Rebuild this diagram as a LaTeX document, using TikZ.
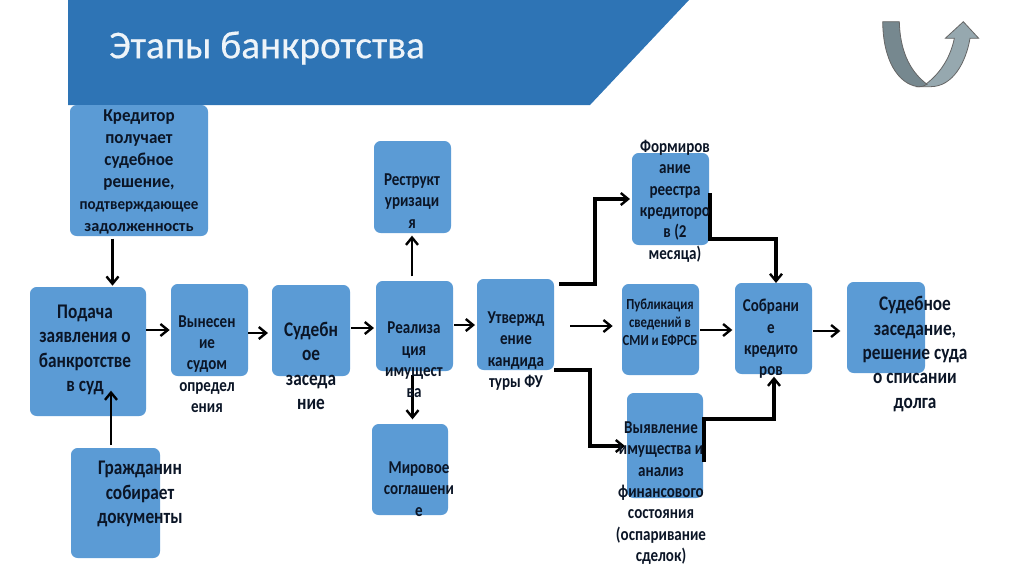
\documentclass[tikz,border=0pt]{standalone}
\usepackage{fontspec}
\setmainfont{Carlito}
\newfontfamily\labf[FakeStretch=0.83]{Carlito}
\newfontfamily\kredf[FakeStretch=0.94]{Carlito}
\newfontfamily\widef{Carlito}
\newfontfamily\titlef[FakeBold=0.4]{Carlito}
\usetikzlibrary{arrows.meta,calc}
\definecolor{banner}{HTML}{2E74B5}
\definecolor{boxblue}{HTML}{5B9BD5}
\definecolor{ink}{HTML}{0B1526}
\newcommand{\bx}[5]{\node[boxnode,minimum width={(#4-#2)*0.75pt},minimum height={(#5-#3)*0.75pt}] (#1) at ({(#2+#4)/2},{(#3+#5)/2}) {};}
\tikzset{
  boxnode/.style={draw=none,fill=boxblue,rounded corners=5pt,inner sep=0pt,outer sep=0pt},
  lab/.style={align=center,text=ink,inner sep=0pt},
  big/.style={lab,font=\labf\bfseries\fontsize{15.6}{18.3}\selectfont},
  mid/.style={lab,font=\labf\bfseries\fontsize{13.6}{16}\selectfont},
  kred/.style={lab,font=\kredf\bfseries\fontsize{13.6}{16.4}\selectfont},
  small/.style={lab,font=\labf\bfseries\fontsize{11.5}{13.5}\selectfont},
  conn/.style={draw=black,line width=2.1pt,-{Straight Barb[length=5.5pt,width=9pt,line width=1.8pt]}},
  connb/.style={conn,line width=2.6pt},
}
\begin{document}
\begin{tikzpicture}[x=0.75pt,y=-0.75pt]
\useasboundingbox (0,0) rectangle (1024,576);
% banner
\fill[banner] (68,0) -- (689,0) -- (590,105) -- (68,105) -- cycle;
\node[font=\titlef\fontsize{29.5}{34}\selectfont,text=white!92!banner,inner sep=0pt] (title) at (267,48) {Этапы банкротства};
% U-turn arrow
\draw[draw=gray!80!black,line width=0.6pt,fill={rgb,255:red,150;green,168;blue,175}]
  (926,84) .. controls (942,72) and (951,55) .. (954.3,38.3) -- (945.3,38.3) -- (963.3,21.7) -- (978.7,38.3) -- (970,38.3)
  .. controls (966,62) and (953,87) .. (930,86.7) -- (918,86.7) -- cycle;
\draw[draw=gray!80!black,line width=0.6pt,fill={rgb,255:red,118;green,136;blue,143}]
  (882.7,21.7) -- (899.3,21.7) .. controls (900,48) and (908,70) .. (927,84.3) .. controls (925,86) and (922,86.7) .. (918,86.7)
  .. controls (898,84) and (883,60) .. (882.7,21.7) -- cycle;
% boxes
\bx{kred}{70}{105}{208}{236}
\bx{restr}{374}{141}{451}{233}
\bx{form}{632}{153}{709}{245}
\bx{pod}{30}{287}{146}{416}
\bx{vyn}{171}{284}{248}{376}
\bx{sud}{272}{285}{350}{376}
\bx{real}{376}{281}{453}{371}
\bx{utv}{477}{279}{554}{370}
\bx{pub}{622}{284}{699}{375}
\bx{sob}{735}{283}{812}{374}
\bx{res}{847}{282}{925}{373}
\bx{grazh}{71}{448}{160}{558}
\bx{mir}{372}{424}{448}{515}
\bx{vyy}{627}{393}{703}{498}
% connectors
\draw[conn,shorten <=2pt,shorten >=1pt] (kred.south -| 112.5,0) -- (pod.north -| 112.5,0);
\draw[conn,shorten <=2.2pt,shorten >=-19pt] (grazh.north -| 111,0) -- (pod.south -| 111,0);
\draw[conn,shorten >=1pt] (pod.east |- 0,330) -- (vyn.west |- 0,330);
\draw[conn,shorten >=3pt] (vyn.east |- 0,333) -- (sud.west |- 0,333);
\draw[conn,shorten <=1pt,shorten >=1.5pt] (sud.east |- 0,328) -- (real.west |- 0,328);
\draw[conn,shorten <=1pt,shorten >=1.5pt] (real.east |- 0,325) -- (utv.west |- 0,325);
\draw[conn,shorten <=3.5pt,shorten >=2pt] (real.north -| 412,0) -- (restr.south -| 412,0);
\draw[conn,shorten <=3pt,shorten >=3.5pt] (real.south -| 412.5,0) -- (mir.north -| 412.5,0);
\draw[connb,shorten >=1.5pt] (utv.east |- 0,284) ++(5,0) -| (595,199) -- (form.west |- 0,199);
\draw[conn,shorten <=12pt,shorten >=7pt] (utv.east |- 0,326) -- (pub.west |- 0,326);
\draw[connb,shorten >=1.5pt] (utv.east |- 0,370) -| (590,446) -- (vyy.west |- 0,446);
\draw[connb] (form.east |- 0,193) ++(1,0) |- (776,239) -- (sob.north -| 776,0);
\draw[conn,shorten <=1pt,shorten >=2pt] (pub.east |- 0,330) -- (sob.west |- 0,330);
\draw[connb,line width=3pt,shorten >=2pt] (vyy.east |- 0,462) ++(1,0) |- (774,419) -- (sob.south -| 774,0);
\draw[conn,shorten <=1pt,shorten >=5pt] (sob.east |- 0,331) -- (res.west |- 0,331);
% labels
\node[kred] (tkred) at (139,172) {Кредитор\\получает\\судебное\\решение,\\{\fontsize{12}{16.4}\selectfont подтверждающее}\\{\widef\bfseries\fontsize{12.2}{16.4}\selectfont задолженность}};
\node[mid] (trestr) at (412,201) {Реструкт\\уризаци\\я};
\node[mid] (tform) at (675,201) {Формиров\\ание\\реестра\\кредиторо\\в (2\\месяца)};
\node[big] (tpod) at (85,350) {Подача\\заявления о\\банкротстве\\в суд};
\node[mid] (tvyn) at (207,364) {Вынесен\\ие\\судом\\определ\\ения};
\node[big] (tsud) at (311,366) {Судебн\\ое\\заседа\\ние};
\node[mid] (treal) at (414,360) {Реализа\\ция\\имущест\\ва};
\node[mid] (tutv) at (516,351) {Утвержд\\ение\\кандида\\туры ФУ};
\node[small] (tpub) at (660,322) {Публикация\\сведений в\\СМИ и ЕФРСБ};
\node[mid] (tsob) at (771,339) {Собрани\\е\\кредито\\ров};
\node[big] (tres) at (915,354) {Судебное\\заседание,\\решение суда\\о списании\\долга};
\node[big] (tgrazh) at (140,494) {Гражданин\\собирает\\документы};
\node[mid] (tmir) at (419,489) {Мировое\\соглашени\\е};
\node[mid] (tvyy) at (661,493) {Выявление\\имущества и\\анализ\\финансового\\состояния\\(оспаривание\\сделок)};
\end{tikzpicture}
\end{document}
